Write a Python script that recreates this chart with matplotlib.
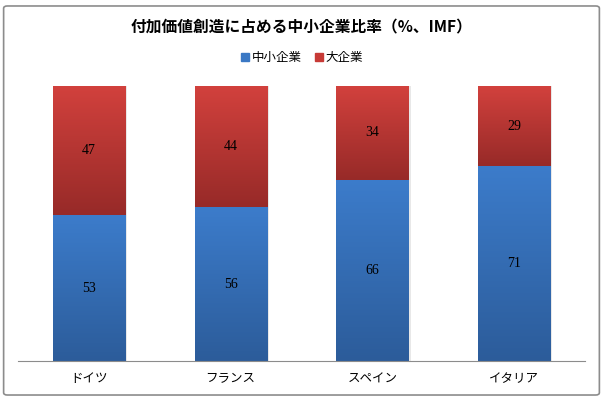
import numpy as np
import matplotlib
matplotlib.use('Agg')
import matplotlib.pyplot as plt
from matplotlib.patches import FancyBboxPatch
from matplotlib.colors import LinearSegmentedColormap

plt.rcParams['font.family'] = ['Noto Sans CJK JP', 'DejaVu Sans']

countries = ['ドイツ', 'フランス', 'スペイン', 'イタリア']
sme = [53, 56, 66, 71]
large = [47, 44, 34, 29]
series_names = ['中小企業', '大企業']

fig = plt.figure(figsize=(6.03, 3.99), dpi=100)

# outer border
border = FancyBboxPatch((0.006, 0.01), 0.988, 0.975, boxstyle='round,pad=0,rounding_size=0.006',
                        transform=fig.transFigure, facecolor='none', edgecolor='#8c8c8c', lw=1.2,
                        zorder=10)
fig.patches.append(border)

ax = fig.add_axes([0.030, 0.095, 0.940, 0.689])
ax.patch.set_alpha(0)

x = np.arange(len(countries))
w = 0.51
b1 = ax.bar(x, sme, w, color='#3a78c4', zorder=2)
b2 = ax.bar(x, large, w, bottom=sme, color='#c73a36', zorder=2)

# vertical gradient fill, clipped to each bar
blue = LinearSegmentedColormap.from_list('b', ['#2c5c9a', '#3c7ccb'])
red = LinearSegmentedColormap.from_list('r', ['#972a28', '#d2413d'])
grad = np.linspace(0, 1, 256).reshape(-1, 1)
for bars, cm in ((b1, blue), (b2, red)):
    for p in bars:
        x0, y0 = p.get_x(), p.get_y()
        im = ax.imshow(grad, cmap=cm, origin='lower', aspect='auto', zorder=3,
                       extent=(x0, x0 + p.get_width(), y0, y0 + p.get_height()))
        im.set_clip_path(p)
        # soft shadow on the right
        ax.bar(x0 + p.get_width() + 0.008, p.get_height(), 0.016, bottom=y0,
               color='#e8e8e8', zorder=1)

for i in range(len(countries)):
    ax.text(x[i], sme[i] / 2, str(sme[i]), ha='center', va='center',
            fontsize=10, family='Liberation Serif', zorder=4)
    ax.text(x[i], sme[i] + large[i] / 2, str(large[i]), ha='center', va='center',
            fontsize=10, family='Liberation Serif', zorder=4)

ax.set_xlim(-0.5, 3.5)
ax.set_ylim(0, 100)
ax.set_xticks(x)
ax.set_xticklabels(countries, fontsize=9)
ax.tick_params(axis='x', length=0, pad=8)
ax.set_yticks([])
for s in ['top', 'right', 'left']:
    ax.spines[s].set_visible(False)
ax.spines['bottom'].set_color('#8c8c8c')
ax.spines['bottom'].set_zorder(5)

fig.text(0.5, 0.93, '付加価値創造に占める中小企業比率（%、IMF）', ha='center', va='center',
         fontsize=11.3, fontweight='bold')

handles = [plt.Line2D([], [], marker='s', ls='', color='#3a78c4', markersize=6),
           plt.Line2D([], [], marker='s', ls='', color='#c73a36', markersize=6)]
fig.legend(handles, series_names, loc='center', bbox_to_anchor=(0.5, 0.855), ncol=2,
           frameon=False, fontsize=9, handletextpad=0.1, columnspacing=1.0, handlelength=0.8)

fig.savefig('out.png', dpi=100)
